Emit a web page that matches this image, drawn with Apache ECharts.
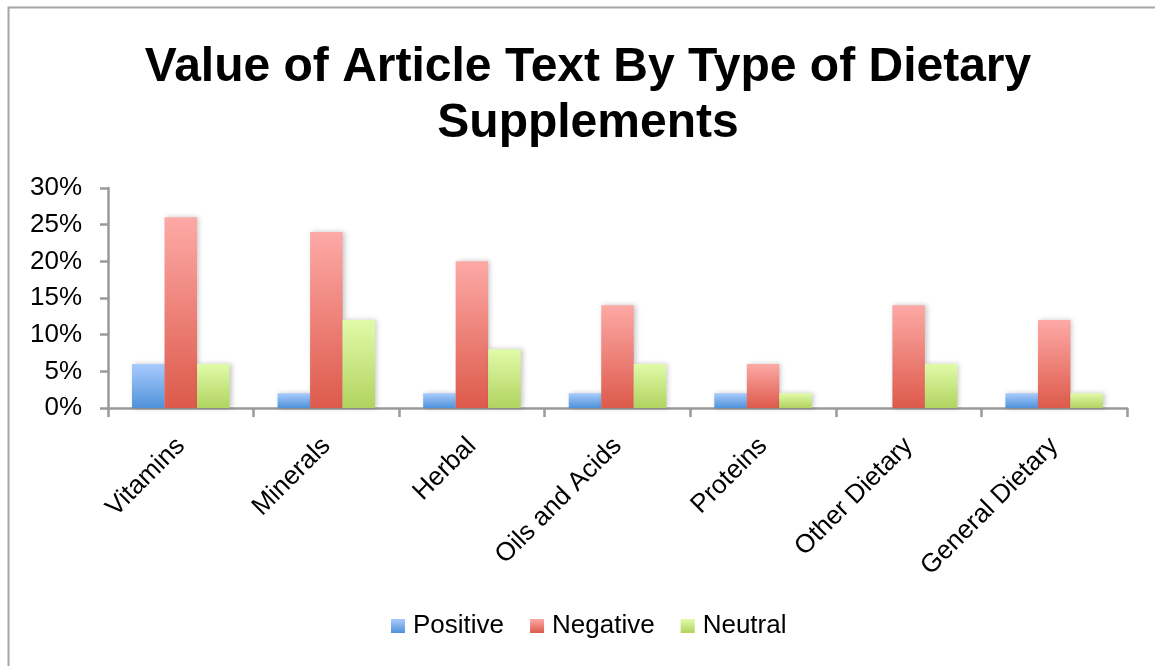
<!DOCTYPE html>
<html>
<head>
<meta charset="utf-8">
<title>Value of Article Text By Type of Dietary Supplements</title>
<script src="https://cdn.jsdelivr.net/npm/echarts@6/dist/echarts.min.js"></script>
<style>
  html, body { margin: 0; padding: 0; background: #fff; }
  #chart { width: 1155px; height: 666px; }
</style>
</head>
<body>
<div id="chart"></div>
<script>
// Supplement categories along the x axis
const categories = ['Vitamins', 'Minerals', 'Herbal', 'Oils and Acids', 'Proteins', 'Other Dietary', 'General Dietary'];

// Share of article text (%) per sentiment
const positive = [6, 2, 2, 2, 2, 0, 2];
const negative = [26, 24, 20, 14, 6, 14, 12];
const neutral  = [6, 12, 8, 6, 2, 6, 2];

const seriesNames = ['Positive', 'Negative', 'Neutral'];

// y axis ticks
const yMin = 0, yMax = 30, yStep = 5;

const FONT = '"Liberation Sans", Arial, Helvetica, sans-serif';

function grad(top, bottom) {
  return new echarts.graphic.LinearGradient(0, 0, 0, 1, [
    { offset: 0, color: top },
    { offset: 1, color: bottom }
  ]);
}

const fills = [
  grad('#a9cbfd', '#4f92da'),
  grad('#fda9a6', '#dd5a4b'),
  grad('#e1fba9', '#b1d360')
];

function barSeries(name, data, fill) {
  return {
    name: name,
    type: 'bar',
    data: data,
    barGap: '0%',
    barCategoryGap: '33%',
    itemStyle: {
      color: fill,
      shadowColor: 'rgba(0,0,0,0.22)',
      shadowBlur: 5,
      shadowOffsetX: 2,
      shadowOffsetY: 0
    },
    emphasis: { disabled: true },
    animation: false
  };
}

const chart = echarts.init(document.getElementById('chart'), null, { renderer: 'canvas' });

chart.setOption({
  backgroundColor: '#ffffff',
  animation: false,
  textStyle: { fontFamily: FONT },
  graphic: [{
    type: 'rect',
    shape: { x: 8.5, y: 7.5, width: 1300, height: 800 },
    style: { fill: 'none', stroke: '#a6a6a6', lineWidth: 2 },
    silent: true
  }],
  title: {
    text: 'Value of Article Text By Type of Dietary\nSupplements',
    left: 583,
    top: 35,
    textAlign: 'center',
    textStyle: {
      fontFamily: FONT,
      fontSize: 48,
      fontWeight: 'bold',
      color: '#000',
      lineHeight: 56
    }
  },
  legend: {
    data: seriesNames,
    top: 608,
    left: 386,
    itemWidth: 14,
    itemHeight: 14,
    itemGap: 26,
    icon: 'rect',
    textStyle: { fontFamily: FONT, fontSize: 26, color: '#000', padding: [0, 0, 0, 3] }
  },
  grid: {
    left: 108,
    right: 28,
    top: 188,
    bottom: 258,
    containLabel: false
  },
  xAxis: {
    type: 'category',
    data: categories,
    axisLine: { show: true, lineStyle: { color: '#9a9a9a', width: 2.5 } },
    axisTick: { show: true, alignWithLabel: false, length: 9, lineStyle: { color: '#9a9a9a', width: 2.5 } },
    axisLabel: {
      rotate: 45,
      interval: 0,
      margin: 34,
      fontFamily: FONT,
      fontSize: 26,
      color: '#000'
    },
    splitLine: { show: false }
  },
  yAxis: {
    type: 'value',
    min: yMin,
    max: yMax,
    interval: yStep,
    axisLine: { show: true, lineStyle: { color: '#9a9a9a', width: 2.5 } },
    axisTick: { show: true, length: 8, lineStyle: { color: '#9a9a9a', width: 2.5 } },
    axisLabel: {
      formatter: '{value}%',
      margin: 26,
      fontFamily: FONT,
      fontSize: 26,
      color: '#000'
    },
    splitLine: { show: false }
  },
  series: [
    barSeries(seriesNames[0], positive, fills[0]),
    barSeries(seriesNames[1], negative, fills[1]),
    barSeries(seriesNames[2], neutral, fills[2])
  ]
});
</script>
</body>
</html>
